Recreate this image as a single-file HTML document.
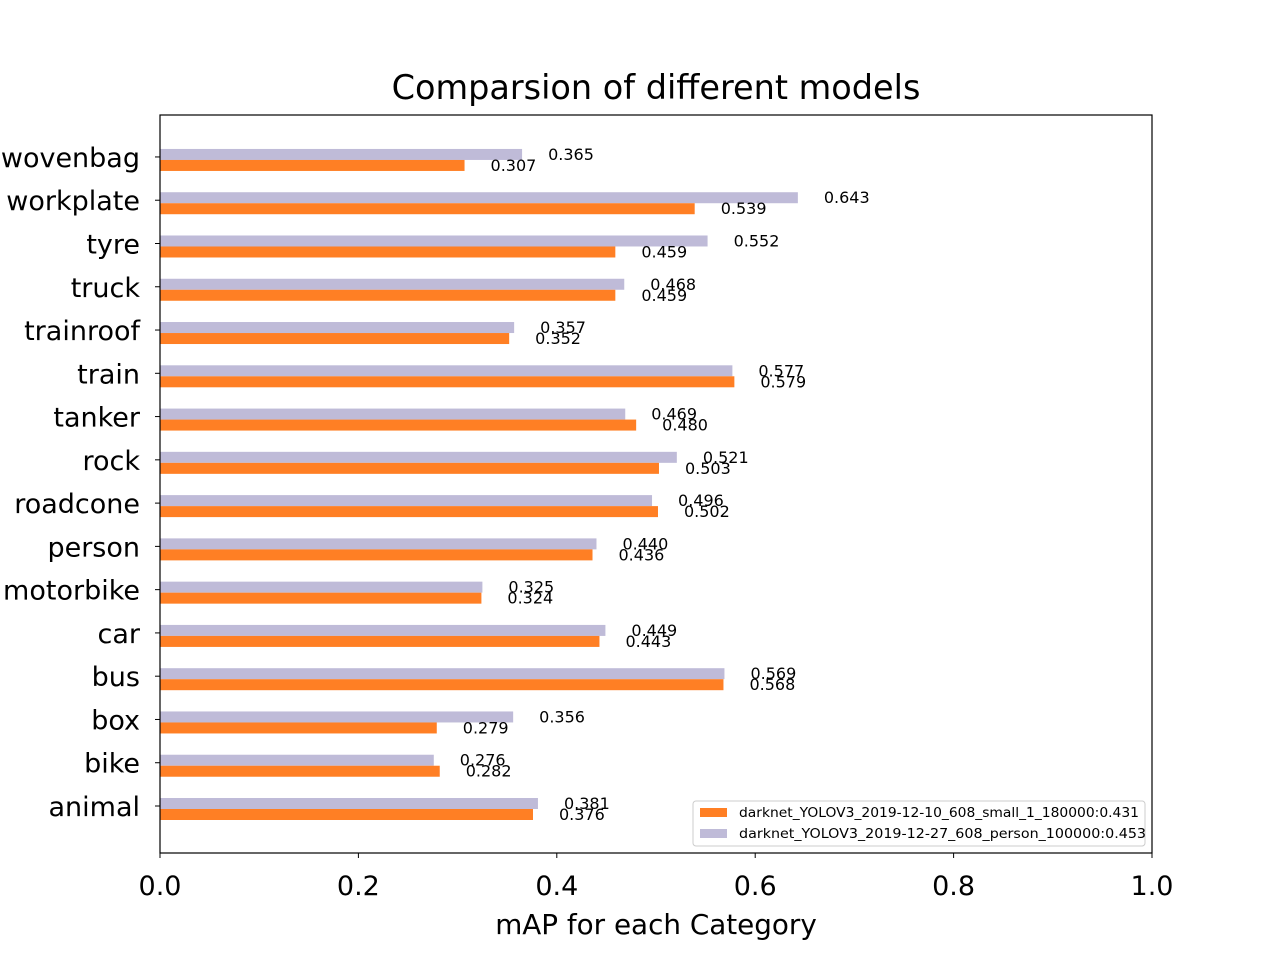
<!DOCTYPE html>
<html><head><meta charset="utf-8"><style>
body{margin:0;background:#fff}
svg text{font-family:"DejaVu Sans","Liberation Sans",sans-serif}
</style></head><body>
<svg id="chart" width="1280" height="960" xmlns="http://www.w3.org/2000/svg">
<rect width="1280" height="960" fill="#fff"/>
<text x="656" y="99" font-size="33.5" text-anchor="middle">Comparsion of different models</text>
<g id="marks"></g>
<rect x="160" y="115" width="992" height="738" fill="none" stroke="#000" stroke-width="1.2"/>
<g id="axes"></g>
<text x="656" y="934" font-size="27.8" text-anchor="middle">mAP for each Category</text>
<g>
<rect x="693" y="801" width="452" height="45" fill="#fff" stroke="#ccc" rx="3"/>
<rect x="700" y="808" width="27" height="9" fill="#ff7f24"/>
<text x="739" y="817" font-size="13.5" textLength="400" lengthAdjust="spacingAndGlyphs">darknet_YOLOV3_2019-12-10_608_small_1_180000:0.431</text>
<rect x="700" y="829" width="27" height="9" fill="#bfbbd8"/>
<text x="739" y="838" font-size="13.5" textLength="407" lengthAdjust="spacingAndGlyphs">darknet_YOLOV3_2019-12-27_608_person_100000:0.453</text>
</g>
</svg>
<script>
const categories=["animal","bike","box","bus","car","motorbike","person","roadcone","rock","tanker","train","trainroof","truck","tyre","workplate","wovenbag"];
const smallValues=[0.376,0.282,0.279,0.568,0.443,0.324,0.436,0.502,0.503,0.480,0.579,0.352,0.459,0.459,0.539,0.307];
const personValues=[0.381,0.276,0.356,0.569,0.449,0.325,0.440,0.496,0.521,0.469,0.577,0.357,0.468,0.552,0.643,0.365];
const xTicks=[0,0.2,0.4,0.6,0.8,1.0];
const NS="http://www.w3.org/2000/svg";
const x=v=>160+v*992;
const y=i=>809-i*43.27;
const marks=document.getElementById('marks'),axes=document.getElementById('axes');
function mk(tag,attrs,parent,text){const e=document.createElementNS(NS,tag);for(const k in attrs)e.setAttribute(k,attrs[k]);if(text!=null)e.textContent=text;parent.appendChild(e);return e;}
categories.forEach((c,i)=>{
  const cy=y(i);
  let b=mk('rect',{x:x(0),y:cy-11,width:x(personValues[i])-x(0),height:11,fill:'#bfbbd8'},marks);
  
  
  b=mk('rect',{x:x(0),y:cy,width:x(smallValues[i])-x(0),height:11,fill:'#ff7f24'},marks);
  
  
  let t=mk('text',{x:x(personValues[i])+26,y:cy,'font-size':16},marks,personValues[i].toFixed(3));
  
  
  t=mk('text',{x:x(smallValues[i])+26,y:cy+11,'font-size':16},marks,smallValues[i].toFixed(3));
  
  
  mk('line',{x1:160,x2:155,y1:cy-3,y2:cy-3,stroke:'#000'},axes);
  t=mk('text',{x:140,y:cy+7,'font-size':27,'text-anchor':'end'},axes,c);
  
  
});
xTicks.forEach(v=>{
  mk('line',{x1:x(v),x2:x(v),y1:853,y2:858,stroke:'#000'},axes);
  const t=mk('text',{x:x(v),y:895,'font-size':27,'text-anchor':'middle'},axes,v.toFixed(1));
  
  
});
</script>
</body></html>
